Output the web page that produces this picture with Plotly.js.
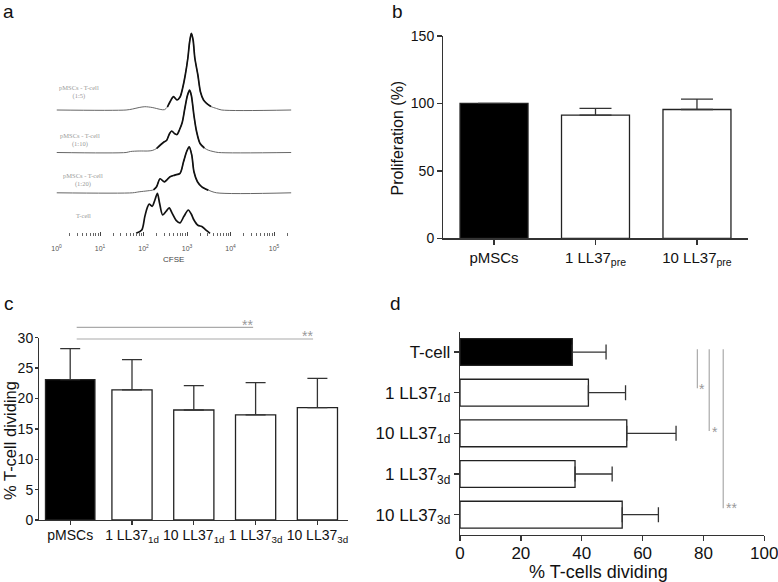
<!DOCTYPE html>
<html><head><meta charset="utf-8">
<script src="https://cdn.plot.ly/plotly-3.0.1.min.js"></script>
<style>html,body{margin:0;padding:0;background:#fff}#chart{width:778px;height:582px}</style>
</head><body><div id="chart"></div>
<script>
// ---- Panel a: CFSE histograms (x = log10 CFSE, y = relative count) ----
const r5_x = [0, 1.6, 1.75, 1.9, 2.03, 2.2, 2.4, 2.48, 2.55, 2.62, 2.69, 2.77, 2.84, 2.9, 2.96, 3.02, 3.06, 3.1, 3.14, 3.18, 3.25, 3.31, 3.38, 3.45, 3.55, 3.68, 3.8, 5.4];
const r5_y = [0, 0, 1, 2.5, 3.3, 2.5, 0.5, 0.3, 3, 9, 13.3, 10, 13, 22, 35, 52, 68, 76.7, 70, 52, 35, 18, 10, 6.7, 3.5, 1.5, 0, 0];
const r10_x = [0, 1.6, 1.7, 1.9, 2.1, 2.2, 2.3, 2.4, 2.47, 2.53, 2.6, 2.65, 2.71, 2.77, 2.83, 2.89, 2.95, 3.01, 3.06, 3.1, 3.16, 3.22, 3.3, 3.4, 3.49, 3.6, 3.72, 5.4];
const r10_y = [0, 0, 1, 1.5, 1.5, 2, 4, 8, 10.5, 12, 19, 21.5, 19, 18, 23, 30, 44, 57, 62.3, 57, 37, 21, 9, 4.5, 2.3, 1, 0, 0];
const r20_x = [0, 1.75, 1.9, 2.1, 2.23, 2.3, 2.38, 2.48, 2.55, 2.61, 2.72, 2.84, 2.92, 2.99, 3.05, 3.11, 3.16, 3.24, 3.34, 3.49, 3.68, 5.4];
const r20_y = [0, 0, 1, 2, 3, 6, 14, 11, 13.5, 16, 17.7, 19.5, 31, 41, 46, 37.7, 21, 11, 6, 2.7, 0, 0];
const tc_x = [1.83, 1.96, 2.03, 2.09, 2.13, 2.2, 2.26, 2.32, 2.37, 2.44, 2.52, 2.59, 2.66, 2.75, 2.84, 2.93, 3.03, 3.1, 3.16, 3.25, 3.34, 3.43, 3.53];
const tc_y = [0, 3.3, 16.7, 26, 29.3, 27, 33, 40, 30, 18.3, 22, 25.5, 20, 13, 10.5, 17, 23.3, 19, 13.3, 8, 6.8, 3.5, 0];
const a_labels = ['pMSCs - T-cell<br>(1:5)', 'pMSCs - T-cell<br>(1:10)', 'pMSCs - T-cell<br>(1:20)', 'T-cell'];

// ---- Panel b ----
const b_cats = ['pMSCs', '1 LL37<sub>pre</sub>', '10 LL37<sub>pre</sub>'];
const b_vals = [100, 91.3, 95.5];
const b_err = [0, 5.0, 7.7];

// ---- Panel c ----
const c_cats = ['pMSCs', '1 LL37<sub>1d</sub>', '10 LL37<sub>1d</sub>', '1 LL37<sub>3d</sub>', '10 LL37<sub>3d</sub>'];
const c_vals = [23.1, 21.4, 18.1, 17.3, 18.5];
const c_err = [5.1, 5.0, 4.0, 5.3, 4.8];

// ---- Panel d ----
const d_cats = ['T-cell', '1 LL37<sub>1d</sub>', '10 LL37<sub>1d</sub>', '1 LL37<sub>3d</sub>', '10 LL37<sub>3d</sub>'];
const d_vals = [36.9, 42.2, 54.8, 37.8, 53.3];
const d_err = [11.1, 12.2, 16.2, 12.2, 11.9];

const W = 778, H = 582;
const px = x => x / W, py = y => 1 - y / H;
const FONT = 'Liberation Sans, Arial, Helvetica, sans-serif';
const pow10 = a => a.map(v => Math.pow(10, v));

function histo(xs, ys, yax, color, width) {
  return {type: 'scatter', mode: 'lines', x: pow10(xs), y: ys, xaxis: 'x', yaxis: yax,
    line: {color: color, width: width, shape: 'spline', smoothing: 0.8}, hoverinfo: 'skip', showlegend: false};
}
// full curve drawn thin, the peak region (counts >= thr) drawn thick on top
function histoPair(xs, ys, yax, thr) {
  let i0 = ys.findIndex(v => v >= thr), i1 = ys.length - 1;
  while (i1 > 0 && ys[i1] < thr) i1--;
  i0 = Math.max(0, i0 - 1); i1 = Math.min(ys.length - 1, i1 + 1);
  return [histo(xs, ys, yax, '#666', 1), histo(xs.slice(i0, i1 + 1), ys.slice(i0, i1 + 1), yax, '#111', 1.7)];
}
const fillCol = n => Array.from({length: n}, (_, i) => i === 0 ? '#000' : '#fff');

const traces = [
  ...histoPair(r5_x, r5_y, 'y4', 5),
  ...histoPair(r10_x, r10_y, 'y3', 5),
  ...histoPair(r20_x, r20_y, 'y2', 5),
  histo(tc_x, tc_y, 'y', '#111', 1.7),
  {type: 'bar', x: b_cats, y: b_vals, xaxis: 'x2', yaxis: 'y5', width: 0.67,
    marker: {color: fillCol(3), line: {color: '#222', width: 1.3}},
    error_y: {type: 'data', symmetric: false, array: b_err, arrayminus: [0, 0, 0], width: 16, thickness: 1.3, color: '#333'},
    showlegend: false},
  {type: 'bar', x: c_cats, y: c_vals, xaxis: 'x3', yaxis: 'y6', width: [0.8, 0.65, 0.65, 0.65, 0.65],
    marker: {color: fillCol(5), line: {color: '#222', width: 1.3}},
    error_y: {type: 'data', symmetric: false, array: c_err, arrayminus: [0, 0, 0, 0, 0], width: 10, thickness: 1.3, color: '#333'},
    showlegend: false},
  {type: 'bar', orientation: 'h', y: d_cats, x: d_vals, xaxis: 'x4', yaxis: 'y7', width: 0.66,
    marker: {color: fillCol(5), line: {color: '#222', width: 1.3}},
    error_x: {type: 'data', symmetric: false, array: d_err, arrayminus: [0, 0, 0, 0, 0], width: 7.5, thickness: 1.3, color: '#333'},
    showlegend: false}
];

// log tick positions for panel a
const aMajor = [], aMajorText = [], aMinor = [];
for (let d = 0; d <= 5; d++) {
  aMajor.push(Math.pow(10, d));
  aMajorText.push('10<sup>' + d + '</sup>');
  for (let m = 2; m <= 9; m++) {
    const v = m * Math.pow(10, d);
    if (v <= 2.1e5) aMinor.push(v);
  }
}

const baseA = [233.3, 192.8, 152.5, 110]; // y, y2, y3, y4 baselines (px)
function histAxis(b, extra) {
  return Object.assign({domain: [py(b + 3), py(b - 80)], range: [-3, 80], visible: false, fixedrange: true}, extra || {});
}

const axLine = {showline: true, linecolor: '#333', linewidth: 1.3, ticks: 'outside', ticklen: 5, tickwidth: 1.3,
  tickcolor: '#333', showgrid: false, zeroline: false, fixedrange: true, ticklabeloverflow: 'allow'};

const layout = {
  width: W, height: H, margin: {l: 0, r: 0, t: 0, b: 0}, paper_bgcolor: '#fff', plot_bgcolor: 'rgba(0,0,0,0)',
  showlegend: false, font: {family: FONT, color: '#111'}, bargap: 0,
  xaxis: {domain: [px(56.5), px(56.5 + 43.5 * 5.4)], type: 'log', range: [0, 5.4], anchor: 'y',
    tickmode: 'array', tickvals: aMajor, ticktext: aMajorText, ticks: 'inside', ticklen: 4, tickwidth: 1,
    tickcolor: '#444', tickfont: {size: 7, color: '#555', family: FONT}, showline: false, showgrid: false, zeroline: false,
    minor: {tickmode: 'array', tickvals: aMinor, ticks: 'inside', ticklen: 3, tickwidth: 1, tickcolor: '#666', showgrid: false},
    ticklabelstandoff: 7, fixedrange: true},
  yaxis: histAxis(baseA[0]),
  yaxis2: histAxis(baseA[1], {anchor: 'x'}),
  yaxis3: histAxis(baseA[2], {anchor: 'x'}),
  yaxis4: histAxis(baseA[3], {anchor: 'x'}),
  xaxis2: Object.assign({}, axLine, {domain: [px(443.3), px(747.7)], anchor: 'y5', type: 'category', range: [-0.5, 2.5],
    tickangle: 0, tickfont: {size: 15, family: FONT, color: '#111'}}),
  yaxis5: Object.assign({}, axLine, {domain: [py(238.3), py(36)], anchor: 'x2', range: [0, 150], dtick: 50,
    tickfont: {size: 14, family: FONT, color: '#111'}}),
  xaxis3: Object.assign({}, axLine, {domain: [px(39.3), px(348.3)], anchor: 'y6', type: 'category', range: [-0.5, 4.5],
    tickangle: 0, ticklen: 4, ticklabelstandoff: -2, tickfont: {size: 14, family: FONT, color: '#111'}}),
  yaxis6: Object.assign({}, axLine, {domain: [py(520), py(337.7)], anchor: 'x3', range: [0, 30], dtick: 5, ticklen: 3,
    ticklabelstandoff: -1, tickfont: {size: 14, family: FONT, color: '#111'}}),
  xaxis4: Object.assign({}, axLine, {domain: [px(460), px(764.3)], anchor: 'y7', range: [0, 100], dtick: 20,
    ticklabelstandoff: -3, tickfont: {size: 17, family: FONT, color: '#111'}}),
  yaxis7: Object.assign({}, axLine, {domain: [py(535), py(331.7)], anchor: 'x4', type: 'category', range: [4.5, -0.5],
    tickfont: {size: 17, family: FONT, color: '#111'}}),
  shapes: [
    {type: 'line', xref: 'x3', yref: 'paper', x0: 0.105, x1: 2.96, y0: py(327.3), y1: py(327.3), line: {color: '#aaa', width: 1.2}},
    {type: 'line', xref: 'x3', yref: 'paper', x0: 0.105, x1: 3.93, y0: py(339), y1: py(339), line: {color: '#aaa', width: 1.2}},
    {type: 'line', xref: 'x4', yref: 'y7', x0: 78, x1: 78, y0: -0.066, y1: 0.89, line: {color: '#aaa', width: 1.2}},
    {type: 'line', xref: 'x4', yref: 'y7', x0: 81.9, x1: 81.9, y0: -0.066, y1: 1.94, line: {color: '#aaa', width: 1.2}},
    {type: 'line', xref: 'x4', yref: 'y7', x0: 86.5, x1: 86.5, y0: -0.066, y1: 3.84, line: {color: '#aaa', width: 1.2}}
  ],
  annotations: []
};

function ann(text, x, y, size, opts) {
  layout.annotations.push(Object.assign({text: text, xref: 'paper', yref: 'paper', x: px(x), y: py(y),
    xanchor: 'center', yanchor: 'middle', showarrow: false, font: {size: size, family: FONT, color: '#111'}}, opts || {}));
}
// panel letters
ann('a', 8.5, 11, 19); ann('b', 397, 11, 19); ann('c', 8.5, 303, 19); ann('d', 395, 303, 19);
// panel a labels
const serif = {family: 'Liberation Serif, Times New Roman, serif', size: 6.5, color: '#999'};
ann(a_labels[0], 79, 92, 6.5, {font: serif});
ann(a_labels[1], 80, 139.5, 6.5, {font: serif});
ann(a_labels[2], 83, 180, 6.5, {font: serif});
ann(a_labels[3], 83, 215, 6.5, {font: serif});
ann('CFSE', 173.5, 259.5, 8, {font: {size: 8, family: FONT, color: '#444'}});
// axis titles
ann('Proliferation (%)', 397, 138.5, 16, {textangle: -90});
ann('% T-cell dividing', 10, 441, 16.5, {textangle: -90});
ann('% T-cells dividing', 598.5, 572, 18);
// significance marks
const gray = {size: 14, family: FONT, color: '#999'};
ann('**', 247.8, 324.5, 14, {font: gray});
ann('**', 307.3, 336, 14, {font: gray});
ann('*', 702, 389, 14, {font: gray});
ann('*', 714.5, 431.5, 14, {font: gray});
ann('**', 731.7, 508, 14, {font: gray});

Plotly.newPlot('chart', traces, layout, {staticPlot: true, displayModeBar: false});
</script></body></html>
